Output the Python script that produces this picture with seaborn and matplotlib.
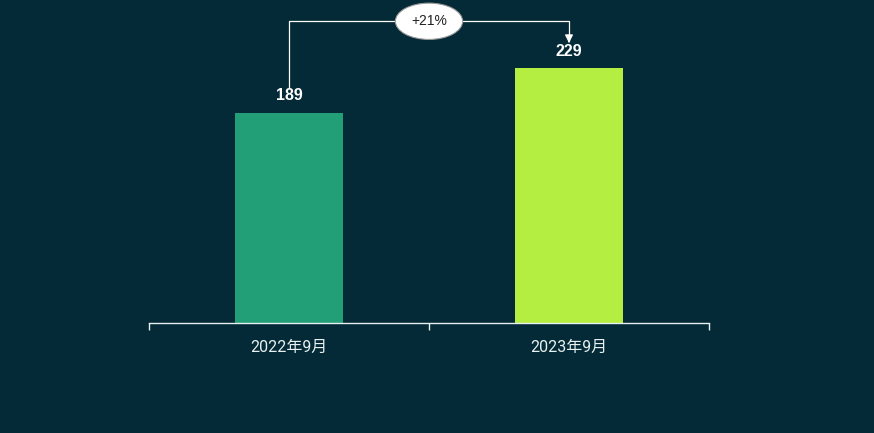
import pandas as pd
import matplotlib.pyplot as plt
import seaborn as sns

# data
periods = ["2022年9月", "2023年9月"]
users = [189, 229]
bar_colors = ["#239F77", "#B4EE41"]
change_label = "+21%"

bg = "#032A36"
sns.set_style("white")
plt.rcParams["font.family"] = ["Roboto", "Noto Sans CJK SC", "DejaVu Sans"]

df = pd.DataFrame({"period": periods, "users": users})

fig = plt.figure(figsize=(8.74, 4.33), dpi=100, facecolor=bg)
ax = fig.add_axes([0.1705, 0.254, 0.6407, 0.72])
ax.set_facecolor(bg)

sns.barplot(data=df, x="period", y="users", hue="period", palette=bar_colors,
            width=0.386, saturation=1, legend=False, linewidth=0, ax=ax)

ax.set_xlim(-0.5, 1.5)
ax.set_ylim(0, 280)

# value labels
for i, v in enumerate(users):
    ax.text(i, v + 15, str(v), ha="center", va="center", color="white",
            fontsize=11.5, fontweight="bold", family="Liberation Sans")

# bracket showing growth
top = 271
ax.plot([0, 0, 1, 1], [users[0] + 22, top, top, users[1] + 24],
        color="white", lw=0.9, clip_on=False)
ax.annotate("", xy=(1, users[1] + 20), xytext=(1, users[1] + 27),
            arrowprops=dict(arrowstyle="-|>", color="white", lw=0.9,
                            mutation_scale=12),
            annotation_clip=False)
ax.text(0.5, top, change_label, ha="center", va="center", fontsize=10,
        color="#222222", family="Liberation Sans",
        bbox=dict(boxstyle="ellipse,pad=0.42", fc="white", ec="#9a9a9a", lw=0.8))

# axis styling
for s in ["left", "right", "top"]:
    ax.spines[s].set_visible(False)
ax.spines["bottom"].set_color("#e8f0f0")
ax.spines["bottom"].set_linewidth(1)
ax.set_yticks([])
ax.set_xticks([0, 1])
ax.set_xticklabels(periods, color="#e8f0f0", fontsize=11.5)
ax.set_xticks([-0.5, 0.5, 1.5], minor=True)
ax.tick_params(axis="x", which="major", bottom=False, length=0, pad=12)
ax.tick_params(axis="x", which="minor", bottom=True, length=5,
               color="#e8f0f0", width=1)
ax.set_xlabel("")
ax.set_ylabel("")

fig.savefig("out.png", dpi=100, facecolor=bg)
